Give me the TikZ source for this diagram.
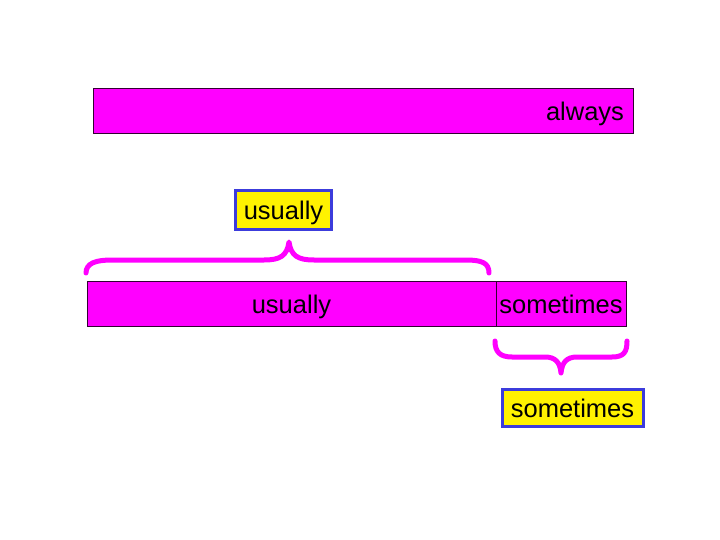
\documentclass[tikz,border=0pt]{standalone}
\usepackage{fontspec}
\setmainfont{Liberation Sans}
\definecolor{barpink}{RGB}{255,0,255}
\definecolor{tagblue}{RGB}{60,60,220}
\tikzset{
  bar/.style={draw=black!80!barpink,fill=barpink,line width=0.8pt,inner sep=0pt,
    minimum height=45pt,text height=22pt,text depth=2.5pt,
    font=\fontsize{25.5}{29}\selectfont},
  tag/.style={draw=tagblue,fill=yellow,line width=3pt,inner sep=0pt,
    minimum height=39pt,text height=22pt,text depth=2.5pt,
    font=\fontsize{25.5}{29}\selectfont},
  brace/.style={draw=barpink,line width=5pt,line cap=round,line join=round}
}
\begin{document}
\begin{tikzpicture}[x=1pt,y=-1pt]
  \useasboundingbox (0,0) rectangle (720,540);
  % top bar
  \node[bar,minimum width=540pt,text width=522pt,align=right] (always) at (363,110.5) {always};
  % middle bar
  \node[bar,minimum width=409pt] (usualbar) at (291.5,303.5) {usually};
  \node[bar,minimum width=130pt] (somebar) at (561,303.5) {sometimes};
  % labels
  \node[tag,minimum width=96pt] (usualtag) at (283.5,210) {usually};
  \node[tag,minimum width=141pt,minimum height=37pt] (sometag) at (572.5,407.5) {sometimes};
  % braces
  \draw[brace] (86,273) .. controls (86,263) and (96,260) .. (112,260)
    -- (264,260) .. controls (280,260) and (287,256) .. (289,242)
    .. controls (291,256) and (298,260) .. (314,260)
    -- (466,260) .. controls (482,260) and (489,263) .. (489,273);
  \draw[brace] (495,341) .. controls (495,352) and (500,357) .. (512,357)
    -- (545,357) .. controls (555,357) and (560,362) .. (561,373)
    .. controls (562,362) and (567,357) .. (577,357)
    -- (612,357) .. controls (624,357) and (627,352) .. (627,341);
\end{tikzpicture}
\end{document}
